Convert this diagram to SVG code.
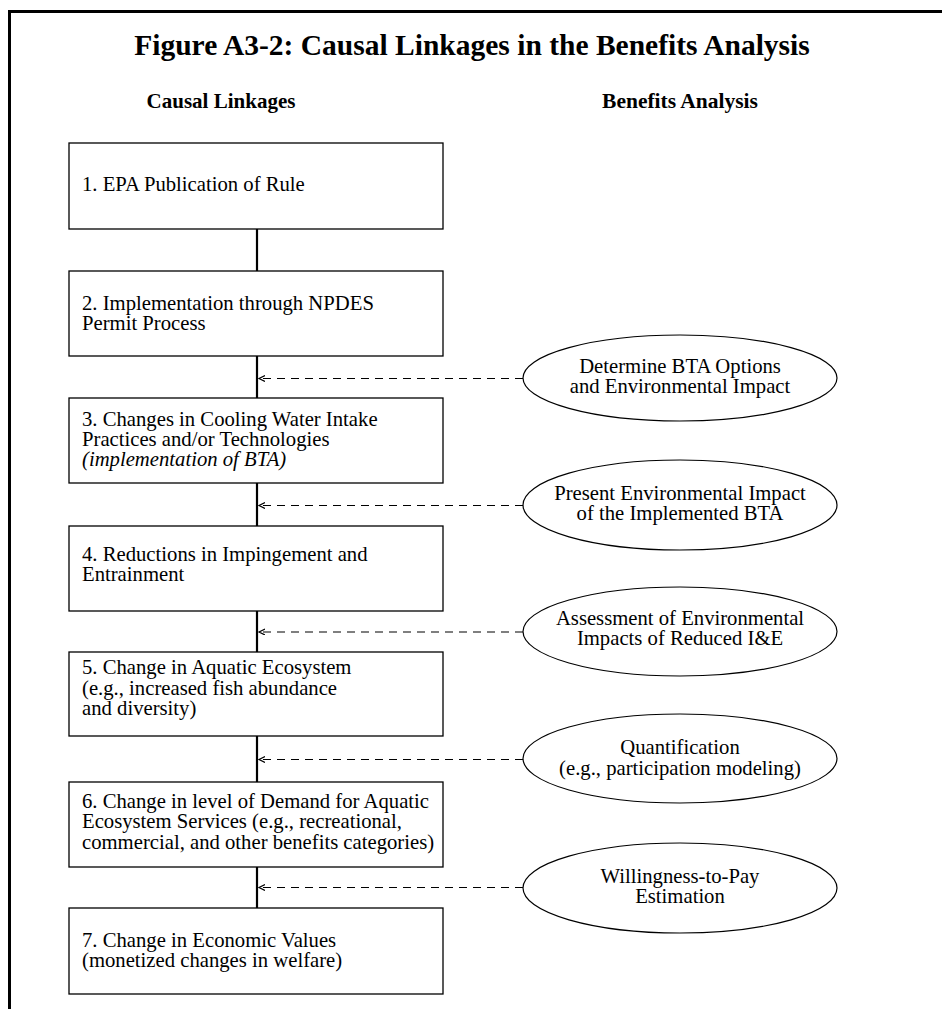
<svg xmlns="http://www.w3.org/2000/svg" width="942" height="1009" viewBox="0 0 942 1009">
<defs>
<style>
.box{fill:#fff;stroke:#000;stroke-width:1.3}
.ell{fill:#fff;stroke:#000;stroke-width:1.2}
.t{font-family:"Liberation Serif","Times New Roman",serif;font-size:20.7px;fill:#000}
.c{text-anchor:middle}
.h{font-family:"Liberation Serif","Times New Roman",serif;font-weight:bold;fill:#000;text-anchor:middle}
.v{stroke:#000;stroke-width:2.2;fill:none}
.d{stroke:#000;stroke-width:1.2;stroke-dasharray:8 6;fill:none}
</style>
<marker id="ah" markerWidth="8" markerHeight="8" refX="6" refY="3" orient="auto" markerUnits="userSpaceOnUse">
<path d="M0,0 L6,3 L0,6" fill="none" stroke="#000" stroke-width="1.2"/>
</marker>
</defs>
<rect width="942" height="1009" fill="#fff"/>
<path d="M9.5,1009 V11.5 H942" fill="none" stroke="#000" stroke-width="3"/>
<text class="h" x="472" y="55" font-size="29.5">Figure A3-2: Causal Linkages in the Benefits Analysis</text>
<text class="h" x="221" y="108" font-size="21">Causal Linkages</text>
<text class="h" x="680" y="108" font-size="21.5">Benefits Analysis</text>
<g id="connectors">
<line class="v" x1="257" y1="229" x2="257" y2="271"/>
<line class="v" x1="257" y1="356" x2="257" y2="398"/>
<line class="v" x1="257" y1="483" x2="257" y2="526"/>
<line class="v" x1="257" y1="611" x2="257" y2="652"/>
<line class="v" x1="257" y1="736" x2="257" y2="782"/>
<line class="v" x1="257" y1="867" x2="257" y2="908"/>
<line class="d" x1="523" y1="378.5" x2="259" y2="378.5" marker-end="url(#ah)"/>
<line class="d" x1="523" y1="505.5" x2="259" y2="505.5" marker-end="url(#ah)"/>
<line class="d" x1="523" y1="632" x2="259" y2="632" marker-end="url(#ah)" stroke-width="2"/>
<line class="d" x1="523" y1="759.5" x2="259" y2="759.5" marker-end="url(#ah)"/>
<line class="d" x1="523" y1="887.5" x2="259" y2="887.5" marker-end="url(#ah)"/>
</g>
<g id="box1"><rect class="box" x="69" y="143" width="374" height="86"/>
<text class="t" x="82" y="191">1. EPA Publication of Rule</text></g>
<g id="box2"><rect class="box" x="69" y="271" width="374" height="85"/>
<text class="t" x="82" y="310">2. Implementation through NPDES</text>
<text class="t" x="82" y="330">Permit Process</text></g>
<g id="box3"><rect class="box" x="69" y="398" width="374" height="85"/>
<text class="t" x="82" y="426">3. Changes in Cooling Water Intake</text>
<text class="t" x="82" y="446">Practices and/or Technologies</text>
<text class="t" x="82" y="466" font-style="italic">(implementation of BTA)</text></g>
<g id="box4"><rect class="box" x="69" y="526" width="374" height="85"/>
<text class="t" x="82" y="561">4. Reductions in Impingement and</text>
<text class="t" x="82" y="581">Entrainment</text></g>
<g id="box5"><rect class="box" x="69" y="652" width="374" height="84"/>
<text class="t" x="82" y="674">5. Change in Aquatic Ecosystem</text>
<text class="t" x="82" y="695">(e.g., increased fish abundance</text>
<text class="t" x="82" y="715">and diversity)</text></g>
<g id="box6"><rect class="box" x="69" y="782" width="374" height="85"/>
<text class="t" x="82" y="808">6. Change in level of Demand for Aquatic</text>
<text class="t" x="82" y="828">Ecosystem Services (e.g., recreational,</text>
<text class="t" x="82" y="849">commercial, and other benefits categories)</text></g>
<g id="box7"><rect class="box" x="69" y="908" width="374" height="86"/>
<text class="t" x="82" y="947">7. Change in Economic Values</text>
<text class="t" x="82" y="967">(monetized changes in welfare)</text></g>
<g id="ell1"><ellipse class="ell" cx="680" cy="378" rx="157" ry="43"/>
<text class="t c" x="680" y="373">Determine BTA Options</text>
<text class="t c" x="680" y="393">and Environmental Impact</text></g>
<g id="ell2"><ellipse class="ell" cx="680" cy="505" rx="157" ry="45"/>
<text class="t c" x="680" y="500">Present Environmental Impact</text>
<text class="t c" x="680" y="520">of the Implemented BTA</text></g>
<g id="ell3"><ellipse class="ell" cx="680" cy="631.5" rx="157" ry="44.5"/>
<text class="t c" x="680" y="625">Assessment of Environmental</text>
<text class="t c" x="680" y="645">Impacts of Reduced I&amp;E</text></g>
<g id="ell4"><ellipse class="ell" cx="680" cy="758.5" rx="157" ry="44.5"/>
<text class="t c" x="680" y="754">Quantification</text>
<text class="t c" x="680" y="775">(e.g., participation modeling)</text></g>
<g id="ell5"><ellipse class="ell" cx="680" cy="888" rx="157" ry="45"/>
<text class="t c" x="680" y="883">Willingness-to-Pay</text>
<text class="t c" x="680" y="903">Estimation</text></g>
</svg>
